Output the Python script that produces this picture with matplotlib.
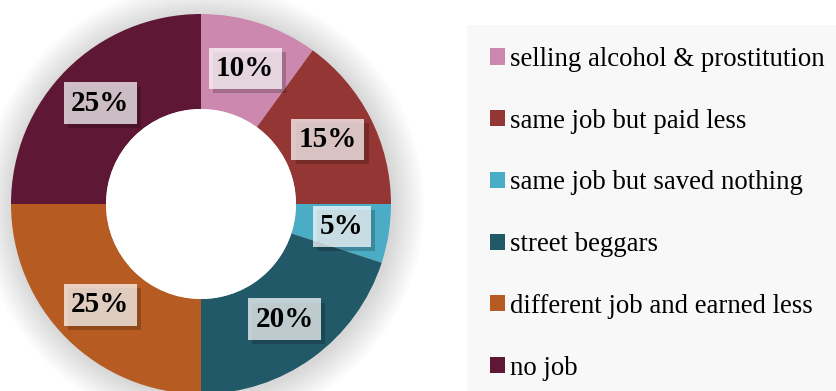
import matplotlib
matplotlib.use("Agg")
import matplotlib.pyplot as plt
from matplotlib.patches import Circle, Rectangle
from matplotlib import patheffects as pe

categories = [
    "selling alcohol & prostitution",
    "same job but paid less",
    "same job but saved nothing",
    "street beggars",
    "different job and earned less",
    "no job",
]
shares = [10, 15, 5, 20, 25, 25]
colors = ["#CD88AF", "#943634", "#4BACC6", "#215968", "#B65C22", "#5E1735"]

W, H = 837, 391
fig = plt.figure(figsize=(W / 100, H / 100), dpi=100)
fig.patch.set_facecolor("white")

# legend panel background
fig.patches.append(Rectangle((467 / W, 0), (W - 467) / W, (391 - 25) / H,
                             transform=fig.transFigure, facecolor="#F8F8F8",
                             edgecolor="none", zorder=0))

cx, cy, r = 201, 204, 190
ax = fig.add_axes([(cx - r) / W, (H - cy - r) / H, 2 * r / W, 2 * r / H])

wedges, _, autotexts = ax.pie(
    shares, colors=colors, startangle=90, counterclock=False, radius=1.0,
    wedgeprops=dict(width=0.5, edgecolor="none"),
    autopct=lambda p: f"{p:.0f}%", pctdistance=0.75,
    textprops=dict(family="Liberation Serif", fontsize=21, fontweight="bold",
                   color="black"),
)
ax.set_xlim(-1, 1)
ax.set_ylim(-1, 1)
ax.set_aspect("equal")
ax.axis("off")

# soft shadow around the ring
n = 40
for i in range(n):
    rad = 1.0 + 0.17 * (i + 1) / n
    ax.add_patch(Circle((0.01, -0.01), rad, facecolor="black", alpha=0.004,
                        edgecolor="none", zorder=0, clip_on=False))

for w in wedges:
    w.set_zorder(2)
for t in autotexts:
    t.set_zorder(5)
    t.set_bbox(dict(boxstyle="square,pad=0.25", facecolor="white", alpha=0.72,
                    edgecolor="none"))
    t.get_bbox_patch().set_path_effects(
        [pe.SimplePatchShadow(offset=(3, -3), shadow_rgbFace="black", alpha=0.2),
         pe.Normal()])

# hole
ax.add_patch(Circle((0, 0), 0.5, facecolor="white", edgecolor="none", zorder=3))

handles = [Rectangle((0, 0), 1, 1, facecolor=c, edgecolor="none") for c in colors]
fig.legend(handles, categories, loc="upper left",
           bbox_to_anchor=(490 / W, 1 - 47 / H), frameon=False,
           prop=dict(family="Liberation Serif", size=19.3),
           handlelength=0.55, handleheight=0.55, handletextpad=0.18,
           labelspacing=1.37, borderaxespad=0, borderpad=0)

fig.savefig("out.png", dpi=100, facecolor="white")
